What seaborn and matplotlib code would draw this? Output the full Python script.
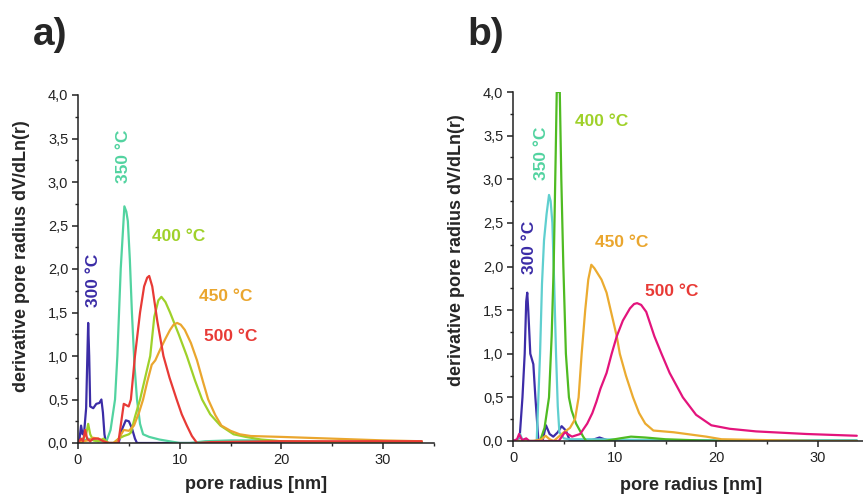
import numpy as np
import pandas as pd
import matplotlib
matplotlib.use("Agg")
import matplotlib.pyplot as plt
import seaborn as sns
from matplotlib.ticker import MultipleLocator, FuncFormatter

sns.set_style("ticks")
plt.rcParams['font.family'] = ['Liberation Sans', 'DejaVu Sans']

labels = ["300 °C", "350 °C", "400 °C", "450 °C", "500 °C"]

# ---------- panel a ----------
a300_x = [0.0, 0.15, 0.3, 0.45, 0.6, 0.8, 0.9, 1.0, 1.1, 1.2, 1.5, 1.8, 2.1, 2.3, 2.45, 2.6, 2.75, 3.0, 4.0, 4.3, 4.7, 5.0, 5.3, 5.6, 5.8, 7.0, 15.0, 25.0, 33.8]
a300_y = [0.0, 0.05, 0.2, 0.1, 0.12, 0.4, 0.9, 1.38, 1.0, 0.42, 0.4, 0.45, 0.46, 0.5, 0.35, 0.1, 0.0, 0.0, 0.0, 0.15, 0.26, 0.25, 0.17, 0.05, 0.0, 0.0, 0.0, 0.0, 0.0]

a350_x = [0.0, 0.5, 1.0, 2.0, 2.8, 3.2, 3.64, 3.87, 4.2, 4.56, 4.75, 4.9, 5.1, 5.3, 5.55, 5.8, 6.1, 6.4, 7.0, 8.0, 9.0, 10.0, 11.0, 12.5, 15.0, 18.0, 20.0, 22.0, 33.8]
a350_y = [0.0, 0.02, 0.05, 0.02, 0.02, 0.15, 0.5, 1.0, 2.0, 2.72, 2.66, 2.55, 2.1, 1.5, 0.9, 0.5, 0.22, 0.1, 0.07, 0.04, 0.02, 0.0, 0.0, 0.02, 0.03, 0.03, 0.02, 0.0, 0.0]

a400_x = [0.0, 0.5, 0.8, 1.0, 1.2, 1.5, 2.0, 2.5, 3.0, 3.5, 4.0, 4.5, 5.0, 5.2, 5.6, 6.1, 6.6, 7.1, 7.5, 7.9, 8.2, 8.6, 9.05, 9.9, 10.7, 11.5, 12.2, 13.0, 14.0, 15.3, 16.5, 18.0, 20.0, 25.0, 30.0, 33.8]
a400_y = [0.0, 0.05, 0.1, 0.22, 0.1, 0.03, 0.02, 0.05, 0.0, 0.0, 0.05, 0.08, 0.1, 0.12, 0.3, 0.5, 0.75, 1.0, 1.45, 1.64, 1.68, 1.62, 1.5, 1.25, 1.0, 0.72, 0.5, 0.33, 0.2, 0.1, 0.07, 0.04, 0.02, 0.01, 0.01, 0.01]

a450_x = [0.0, 0.5, 1.0, 1.5, 2.0, 2.5, 3.0, 3.5, 4.0, 4.5, 5.0, 5.5, 6.0, 6.4, 6.8, 7.25, 7.6, 8.1, 8.6, 9.05, 9.4, 9.75, 10.1, 10.5, 11.1, 11.7, 12.3, 12.8, 13.5, 14.1, 15.0, 15.9, 17.0, 20.0, 25.0, 30.0, 33.8]
a450_y = [0.0, 0.02, 0.03, 0.06, 0.05, 0.02, 0.0, 0.0, 0.05, 0.15, 0.14, 0.2, 0.35, 0.5, 0.7, 0.9, 0.95, 1.08, 1.2, 1.3, 1.36, 1.38, 1.36, 1.3, 1.15, 0.95, 0.7, 0.5, 0.32, 0.2, 0.14, 0.1, 0.08, 0.07, 0.05, 0.03, 0.02]

a500_x = [0.0, 0.3, 0.5, 0.7, 0.9, 1.2, 1.5, 2.0, 2.5, 3.0, 3.5, 3.96, 4.2, 4.5, 4.98, 5.2, 5.6, 6.1, 6.5, 6.8, 7.0, 7.3, 7.8, 8.4, 9.0, 9.7, 10.2, 10.7, 11.2, 11.7, 13.0, 20.0, 25.0, 30.0, 33.8]
a500_y = [0.0, 0.05, 0.02, 0.15, 0.05, 0.02, 0.05, 0.05, 0.02, 0.0, 0.0, 0.0, 0.2, 0.45, 0.42, 0.5, 1.0, 1.5, 1.8, 1.9, 1.92, 1.8, 1.4, 1.0, 0.75, 0.5, 0.33, 0.2, 0.08, 0.0, 0.01, 0.02, 0.02, 0.02, 0.02]

# ---------- panel b ----------
b300_x = [0.0, 0.4, 0.66, 0.93, 1.15, 1.3, 1.4, 1.5, 1.7, 2.0, 2.2, 2.5, 2.9, 3.24, 3.6, 3.96, 4.4, 4.78, 5.2, 5.6, 7.5, 8.5, 9.5, 15.0, 25.0, 33.8]
b300_y = [0.0, 0.0, 0.05, 0.5, 1.0, 1.6, 1.7, 1.5, 1.0, 0.88, 0.5, 0.0, 0.0, 0.18, 0.08, 0.05, 0.1, 0.17, 0.12, 0.0, 0.0, 0.04, 0.0, 0.0, 0.0, 0.0]

b350_x = [0.0, 0.5, 0.7, 0.9, 1.5, 2.33, 2.66, 2.85, 3.05, 3.3, 3.54, 3.7, 3.87, 4.05, 4.23, 4.4, 4.56, 5.0, 5.5, 8.0, 15.0, 25.0, 33.8]
b350_y = [0.0, 0.02, 0.08, 0.02, 0.0, 0.0, 1.0, 1.8, 2.3, 2.6, 2.82, 2.75, 2.5, 1.8, 1.0, 0.4, 0.1, 0.03, 0.02, 0.02, 0.01, 0.01, 0.01]

b400_x = [0.0, 1.0, 2.0, 2.66, 3.1, 3.54, 3.8, 4.0, 4.2, 4.3, 4.6, 4.75, 4.95, 5.2, 5.5, 5.76, 6.2, 6.9, 7.2, 9.0, 10.5, 11.6, 13.0, 15.0, 20.0, 25.0, 33.8]
b400_y = [0.0, 0.0, 0.0, 0.0, 0.15, 0.5, 1.2, 2.0, 3.3, 4.0, 4.0, 3.0, 2.0, 1.0, 0.5, 0.35, 0.2, 0.05, 0.0, 0.0, 0.03, 0.05, 0.04, 0.02, 0.0, 0.0, 0.0]

b450_x = [0.0, 1.0, 2.0, 2.8, 3.2, 3.6, 4.0, 4.5, 5.0, 5.6, 6.1, 6.45, 6.75, 7.1, 7.4, 7.7, 8.0, 8.7, 9.2, 9.7, 10.2, 10.5, 11.1, 11.8, 12.4, 13.0, 13.8, 15.8, 19.0, 20.5, 25.0, 30.0, 33.8]
b450_y = [0.0, 0.0, 0.0, 0.02, 0.06, 0.02, 0.0, 0.05, 0.1, 0.15, 0.25, 0.5, 1.0, 1.5, 1.85, 2.02, 1.98, 1.85, 1.7, 1.45, 1.2, 1.0, 0.75, 0.5, 0.32, 0.2, 0.12, 0.1, 0.05, 0.02, 0.01, 0.0, 0.0]

b500_x = [0.0, 0.4, 0.6, 0.9, 1.3, 1.6, 2.0, 3.0, 4.5, 5.1, 5.8, 6.6, 7.3, 7.8, 8.2, 8.6, 9.2, 9.7, 10.2, 10.8, 11.5, 11.9, 12.2, 12.6, 13.1, 13.9, 14.6, 15.4, 16.7, 18.0, 19.5, 21.3, 23.9, 28.9, 33.8]
b500_y = [0.0, 0.02, 0.08, 0.01, 0.03, 0.0, 0.0, 0.0, 0.0, 0.1, 0.05, 0.08, 0.2, 0.32, 0.45, 0.6, 0.78, 1.0, 1.2, 1.38, 1.52, 1.57, 1.58, 1.56, 1.48, 1.2, 1.0, 0.78, 0.5, 0.3, 0.18, 0.14, 0.11, 0.08, 0.06]

colors_a = ["#3b2ca6", "#52d3a0", "#9fd12a", "#eaa62e", "#e83a36"]
colors_b = ["#3d2ca8", "#5fcfcf", "#4fbb22", "#ebab30", "#e3147c"]
label_colors = ["#3b2ca6", "#52d3a0", "#9fd12a", "#eaa62e", "#e83a36"]

series_a = [(a300_x, a300_y), (a350_x, a350_y), (a400_x, a400_y), (a450_x, a450_y), (a500_x, a500_y)]
series_b = [(b300_x, b300_y), (b350_x, b350_y), (b400_x, b400_y), (b450_x, b450_y), (b500_x, b500_y)]

# label positions (data coords) and rotation
lab_a = [(1.5, 1.87, 90), (4.5, 3.3, 90), (9.9, 2.37, 0), (14.5, 1.68, 0), (15.0, 1.22, 0)]
lab_b = [(1.6, 2.22, 90), (2.85, 3.3, 90), (8.75, 3.66, 0), (10.7, 2.27, 0), (15.6, 1.71, 0)]

fig = plt.figure(figsize=(8.63, 4.96), dpi=100)
ax_a = fig.add_axes([78/863, 1-443/496, 356/863, 348/496])
ax_b = fig.add_axes([513/863, 1-441/496, 356/863, 349/496])

def draw(ax, series, colors, labs, ylab_y, xpad):
    for (x, y), c, lab in zip(series, colors, labels):
        df = pd.DataFrame({"r": x, "v": y})
        sns.lineplot(data=df, x="r", y="v", ax=ax, color=c, lw=1.6, sort=False,
                     estimator=None, legend=False, clip_on=True)
    for (tx, ty, rot), c, lab in zip(labs, label_colors, labels):
        ax.text(tx, ty, lab, color=c, rotation=rot, ha="center", va="center",
                fontsize=12.5, fontweight="bold")
    ax.set_xlim(0, 35)
    ax.set_ylim(0, 4.0)
    ax.xaxis.set_major_locator(MultipleLocator(10))
    ax.xaxis.set_minor_locator(MultipleLocator(5))
    ax.yaxis.set_major_locator(MultipleLocator(0.5))
    ax.yaxis.set_minor_locator(MultipleLocator(0.25))
    ax.yaxis.set_major_formatter(FuncFormatter(lambda v, p: f"{v:.1f}".replace(".", ",")))
    ax.tick_params(which="major", direction="out", length=4, width=1.1, labelsize=10.5, colors="#222222", pad=3)
    ax.tick_params(which="minor", direction="out", length=2.5, width=1.0)
    for s in ["top", "right"]:
        ax.spines[s].set_visible(False)
    for s in ["left", "bottom"]:
        ax.spines[s].set_linewidth(1.1)
        ax.spines[s].set_color("#222222")
    ax.set_xlabel("pore radius [nm]", fontsize=13, fontweight="bold", labelpad=xpad)
    ax.set_ylabel("derivative pore radius dV/dLn(r)", fontsize=13, fontweight="bold")
    ax.yaxis.set_label_coords(-0.16, ylab_y)
    ax.yaxis.label.set_va("center")
    ax.set_facecolor("white")

draw(ax_a, series_a, colors_a, lab_a, 0.537, 7)
draw(ax_b, series_b, colors_b, lab_b, 0.546, 9)

fig.text(33/863, 1-45/496, "a)", fontsize=28, fontweight="bold", ha="left", va="baseline")
fig.text(467/863, 1-45/496, "b)", fontsize=28, fontweight="bold", ha="left", va="baseline")

fig.savefig("out.png", dpi=100, facecolor="white")
